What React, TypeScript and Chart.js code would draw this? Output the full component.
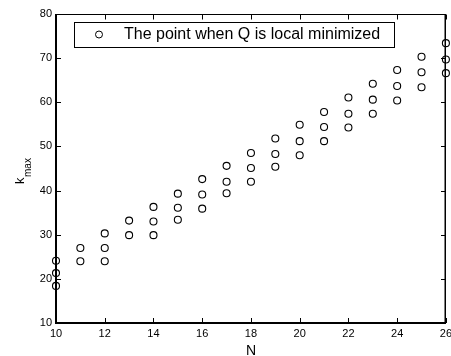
import React, { useEffect, useRef } from "react";
import { Chart, registerables } from "chart.js";

Chart.register(...registerables);

// Sample sizes N and the k_max values where Q reaches a local minimum
const nValues = [10, 11, 12, 13, 14, 15, 16, 17, 18, 19, 20, 21, 22, 23, 24, 25, 26];
const kUpper = [24.1, 27.0, 30.3, 33.2, 36.3, 39.3, 42.6, 45.6, 48.5, 51.8, 54.9, 57.8, 61.1, 64.2, 67.3, 70.3, 73.4];
const kMiddle = [21.3, null, 27.0, null, 33.0, 36.1, 39.1, 42.0, 45.1, 48.3, 51.2, 54.4, 57.4, 60.6, 63.7, 66.8, 69.7];
const kLower = [18.4, 24.0, 24.0, 29.9, 29.9, 33.4, 35.9, 39.4, 42.0, 45.4, 48.0, 51.2, 54.3, 57.4, 60.4, 63.4, 66.6];

const seriesLabel = "The point when Q is local minimized";
const xTitle = "N";
const yTitleMain = "k";
const yTitleSub = "max";

const FONT = "'Liberation Sans', Arial, sans-serif";

function buildPoints() {
  const pts: { x: number; y: number }[] = [];
  nValues.forEach((n, i) => {
    [kUpper[i], kMiddle[i], kLower[i]].forEach((k) => {
      if (k !== null && k !== undefined) pts.push({ x: n, y: k as number });
    });
  });
  return pts;
}

// Frame, inward ticks on all four sides, legend box and axis titles
const framePlugin = {
  id: "frame",
  afterDraw(chart: any) {
    const { ctx, chartArea, scales } = chart;
    const L = Math.round(chartArea.left);
    const R = Math.round(chartArea.right);
    const T = Math.round(chartArea.top) + 0.5;
    const B = Math.round(chartArea.bottom);
    const tickLen = 5;
    ctx.save();
    ctx.strokeStyle = "#000";

    // heavier left and bottom axes, lighter top and right edges
    ctx.lineWidth = 2;
    ctx.beginPath();
    ctx.moveTo(L, T - 0.5);
    ctx.lineTo(L, B);
    ctx.lineTo(R, B);
    ctx.stroke();
    ctx.lineWidth = 1;
    ctx.beginPath();
    ctx.moveTo(L, T);
    ctx.lineTo(R - 0.5, T);
    ctx.stroke();
    ctx.lineWidth = 1.5;
    ctx.beginPath();
    ctx.moveTo(R - 0.75, T - 0.5);
    ctx.lineTo(R - 0.75, B);
    ctx.stroke();

    ctx.lineWidth = 1;
    ctx.beginPath();
    scales.x.ticks.forEach((t: any) => {
      const px = Math.round(scales.x.getPixelForValue(t.value)) + 0.5;
      ctx.moveTo(px, B);
      ctx.lineTo(px, B - tickLen);
      ctx.moveTo(px, T);
      ctx.lineTo(px, T + tickLen);
    });
    scales.y.ticks.forEach((t: any) => {
      const py = Math.round(scales.y.getPixelForValue(t.value)) + 0.5;
      ctx.moveTo(L, py);
      ctx.lineTo(L + tickLen, py);
      ctx.moveTo(R, py);
      ctx.lineTo(R - tickLen, py);
    });
    ctx.stroke();

    // Legend
    const lx = 74.5, ly = 22.5, lw = 320, lh = 25;
    ctx.fillStyle = "#fff";
    ctx.fillRect(lx, ly, lw, lh);
    ctx.strokeRect(lx, ly, lw, lh);
    ctx.beginPath();
    ctx.arc(99, 34.5, 3.5, 0, Math.PI * 2);
    ctx.stroke();
    ctx.fillStyle = "#000";
    ctx.font = `16px ${FONT}`;
    ctx.textBaseline = "middle";
    ctx.textAlign = "left";
    ctx.fillText(seriesLabel, 124, 35);

    // X axis title
    ctx.font = `14px ${FONT}`;
    ctx.textAlign = "center";
    ctx.textBaseline = "alphabetic";
    ctx.fillText(xTitle, (chartArea.left + chartArea.right) / 2, 355);

    // Y axis title with subscript, rotated
    ctx.save();
    ctx.translate(24, 184);
    ctx.rotate(-Math.PI / 2);
    ctx.textAlign = "left";
    ctx.font = `13px ${FONT}`;
    ctx.fillText(yTitleMain, 0, 0);
    const kw = ctx.measureText(yTitleMain).width;
    ctx.font = `10px ${FONT}`;
    ctx.fillText(yTitleSub, kw + 0.5, 7);
    ctx.restore();

    ctx.restore();
  },
};

export default function App() {
  const ref = useRef<HTMLCanvasElement>(null);

  useEffect(() => {
    document.body.style.margin = "0";
    const canvas = ref.current!;
    const chart = new Chart(canvas, {
      type: "scatter",
      data: {
        datasets: [
          {
            label: seriesLabel,
            data: buildPoints(),
            pointStyle: "circle",
            pointRadius: 3.5,
            pointBorderWidth: 1.1,
            pointBorderColor: "#000",
            pointBackgroundColor: "rgba(0,0,0,0)",
            clip: false as any,
          },
        ],
      },
      options: {
        responsive: false,
        animation: false,
        devicePixelRatio: 1,
        layout: { padding: { left: 0, top: 14, right: 2, bottom: 0 } },
        plugins: {
          legend: { display: false },
          tooltip: { enabled: false },
        },
        scales: {
          x: {
            type: "linear",
            min: 10,
            max: 26,
            grid: { display: false, drawTicks: false },
            border: { display: false },
            ticks: {
              stepSize: 2,
              color: "#000",
              padding: 4,
              maxRotation: 0,
              autoSkip: false,
              font: { family: FONT, size: 11 },
            },
            afterFit(scale: any) {
              scale.height = 33;
              scale.paddingLeft = 0;
              scale.paddingRight = 0;
            },
          },
          y: {
            type: "linear",
            min: 10,
            max: 80,
            grid: { display: false, drawTicks: false },
            border: { display: false },
            ticks: {
              stepSize: 10,
              color: "#000",
              padding: 4,
              autoSkip: false,
              font: { family: FONT, size: 11 },
            },
            afterFit(scale: any) {
              scale.width = 56;
              scale.paddingTop = 0;
              scale.paddingBottom = 0;
            },
          },
        },
      },
      plugins: [framePlugin],
    });
    return () => chart.destroy();
  }, []);

  return (
    <canvas
      ref={ref}
      width={451}
      height={356}
      style={{ display: "block", width: 451, height: 356 }}
    />
  );
}
